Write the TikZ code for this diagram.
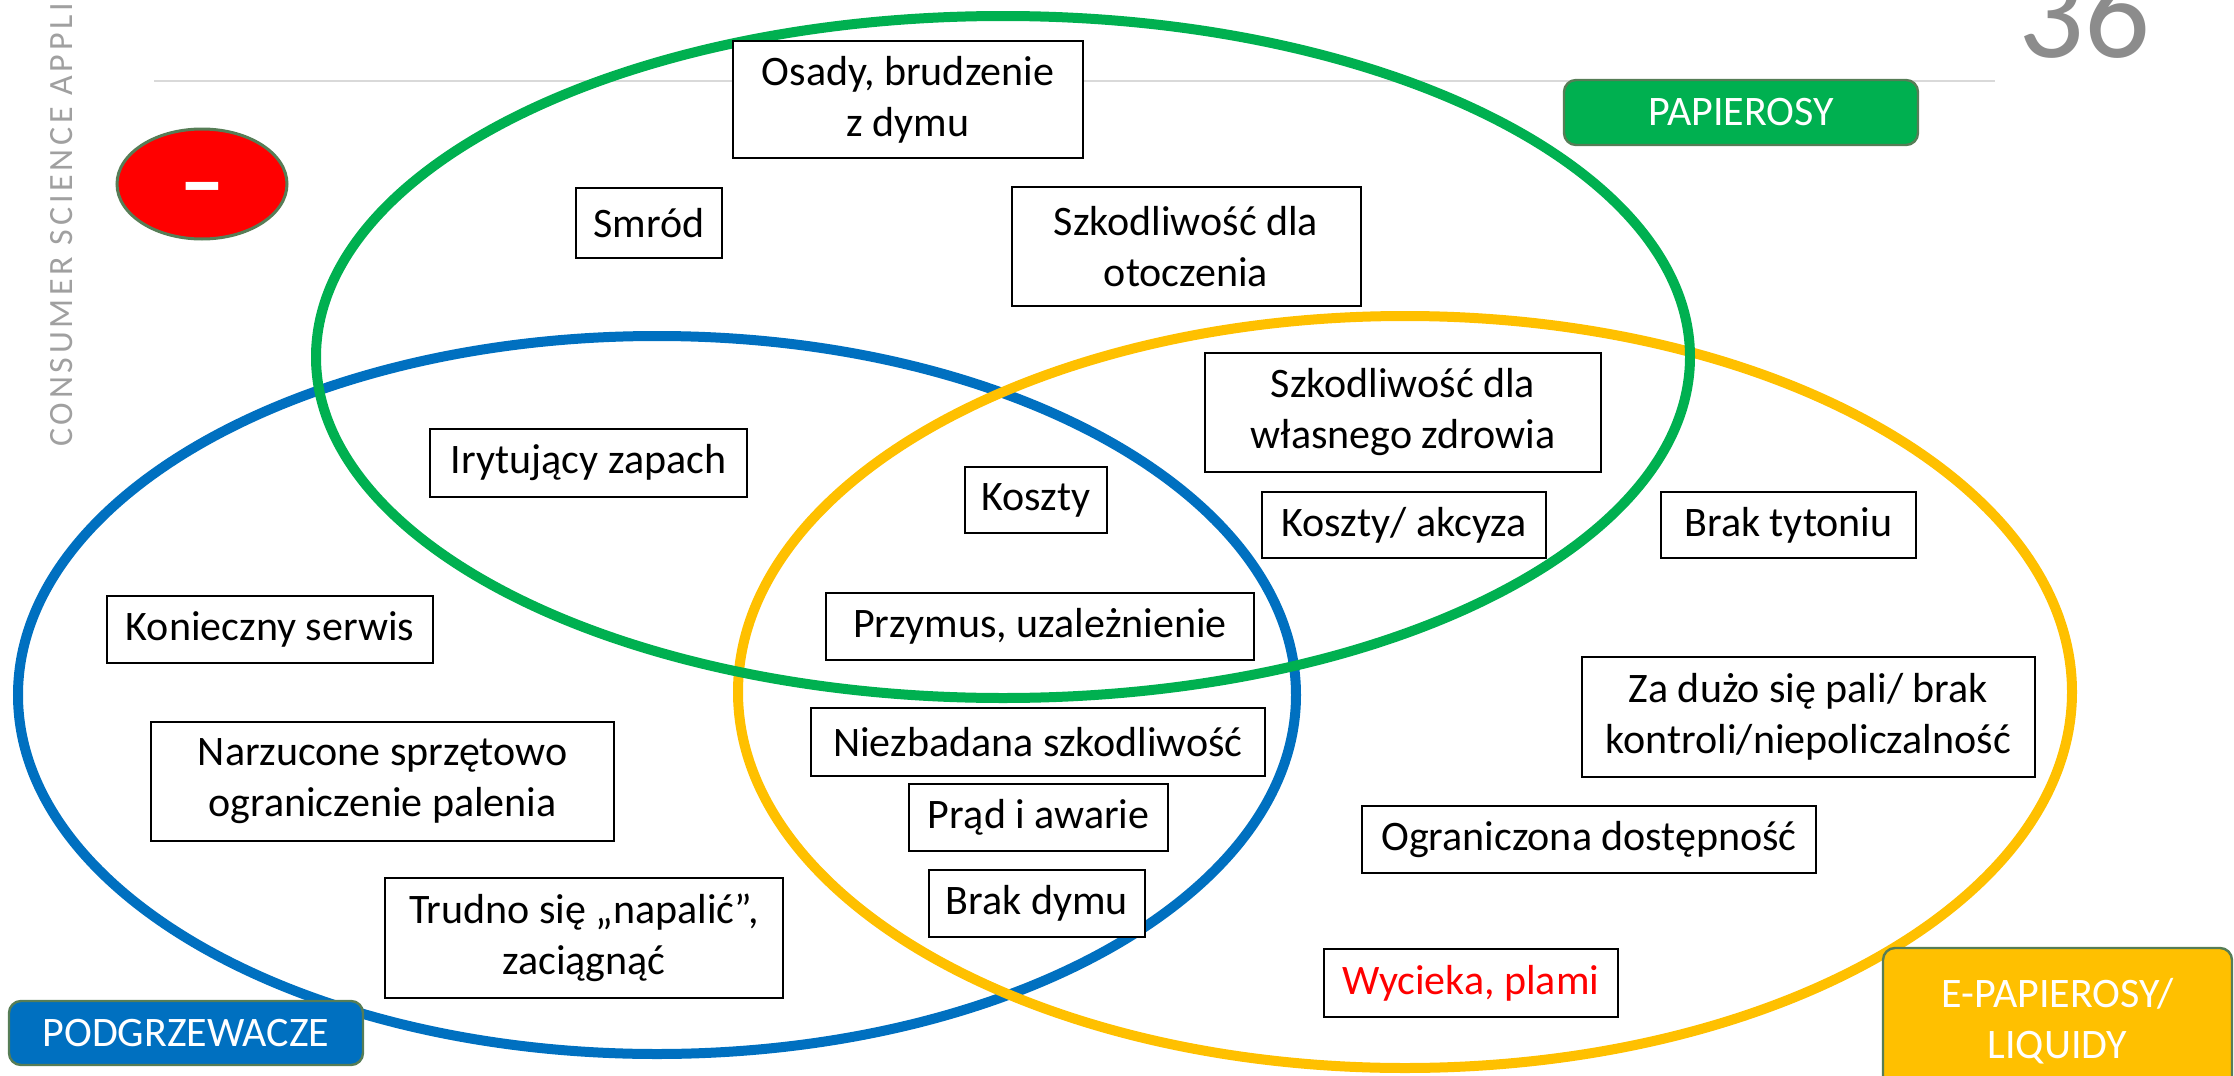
\documentclass[tikz,border=0pt]{standalone}
\usepackage{fontspec}
\setmainfont{Carlito}
\usetikzlibrary{shapes.geometric}
\definecolor{gG}{HTML}{00B050}
\definecolor{bB}{HTML}{0070C0}
\definecolor{yY}{HTML}{FFC000}
\definecolor{bord}{HTML}{567D56}
\definecolor{lineG}{HTML}{D9D9D9}
\definecolor{numG}{HTML}{8C8C8C}
\definecolor{sideG}{HTML}{A0A0A0}
\begin{document}
\begin{tikzpicture}[x=0.5pt,y=-0.5pt,
  box/.style={draw=black, line width=1pt, fill=white, align=center, inner sep=0pt,
    font=\fontsize{21}{25.5}\selectfont},
  tag/.style={draw=bord, line width=1.2pt, rounded corners=6pt, text=white, align=center,
    inner sep=0pt, font=\fontsize{21}{25.5}\selectfont},
  ring/.style={line width=5pt}]
\useasboundingbox (0,0) rectangle (2234,1076);
\clip (0,0) rectangle (2234,1076);
% header line
\coordinate (gl1) at (154,81);
\coordinate (gl2) at (1995,81);
\draw[lineG, line width=1pt] (gl1) -- (gl2);
% page number and side text
\node[anchor=base, text=numG, inner sep=0pt, font=\fontsize{65}{65}\selectfont] (pnum) at (2084,57) {36};
\node[rotate=90, anchor=base west, inner sep=0pt, text=sideG,
  font=\fontsize{17}{17}\selectfont\addfontfeatures{LetterSpace=11}] (side) at (72,447) {CONSUMER SCIENCE APPLI};
% ellipses
\draw[ring, bB] (657,695) ellipse [x radius=319.5pt, y radius=179.5pt];
\draw[ring, yY] (1405,692) ellipse [x radius=333.5pt, y radius=188pt];
\draw[ring, gG] (1003,357) ellipse [x radius=343.5pt, y radius=170.5pt];
% minus sign
\node[ellipse, draw=bord, line width=1.5pt, fill=red, minimum width=85pt, minimum height=55pt, inner sep=0pt] (neg) at (202,184) {};
\node[anchor=base, inner sep=0pt, text=white, font=\fontsize{46}{46}\selectfont\bfseries] (minus) at (202,212) {–};
% boxes
\node[box, minimum width=175pt, minimum height=58.5pt] (osady) at (908,99.5) {Osady, brudzenie\\z dymu};
\node[box, minimum width=73pt, minimum height=35pt] (smrod) at (649,223) {Smród};
\node[box, minimum width=174.5pt, minimum height=59.5pt] (otocz) at (1186,246.5) {Szkodliwość dla\\otoczenia};
\node[box, minimum width=198pt, minimum height=59.5pt] (zdrow) at (1403,412.5) {Szkodliwość dla\\własnego zdrowia};
\node[box, minimum width=158.5pt, minimum height=34pt] (iryt) at (588.5,463) {Irytujący zapach};
\node[box, minimum width=71pt, minimum height=33pt] (koszty) at (1036,500) {Koszty};
\node[box, minimum width=142pt, minimum height=33pt] (akcyza) at (1404,525) {Koszty/ akcyza};
\node[box, minimum width=127.5pt, minimum height=33pt] (tyton) at (1788.5,525) {Brak tytoniu};
\node[box, minimum width=163pt, minimum height=33.5pt] (serwis) at (270,629.5) {Konieczny serwis};
\node[box, minimum width=214pt, minimum height=33.5pt] (przymus) at (1040,626.5) {Przymus, uzależnienie};
\node[box, minimum width=226.5pt, minimum height=60pt] (zaduzo) at (1808.5,717) {Za dużo się pali/ brak\\kontroli/niepoliczalność};
\node[box, minimum width=227pt, minimum height=34pt] (niezb) at (1038,742) {Niezbadana szkodliwość};
\node[box, minimum width=231.5pt, minimum height=59.5pt] (narzuc) at (382.5,781.5) {Narzucone sprzętowo\\ograniczenie palenia};
\node[box, minimum width=129.5pt, minimum height=33.5pt] (prad) at (1038.5,817.5) {Prąd i awarie};
\node[box, minimum width=227pt, minimum height=33.5pt] (ogran) at (1589,839.5) {Ograniczona dostępność};
\node[box, minimum width=108pt, minimum height=33.5pt] (dym) at (1037,903.5) {Brak dymu};
\node[box, minimum width=199pt, minimum height=60pt] (trudno) at (584,938) {Trudno się „napalić”,\\zaciągnąć};
\node[box, minimum width=147pt, minimum height=34pt, text=red] (wyciek) at (1471,983) {Wycieka, plami};
% category tags
\node[tag, fill=gG, minimum width=177pt, minimum height=32.5pt] (papier) at (1741,112.5) {PAPIEROSY};
\node[tag, fill=bB, minimum width=177pt, minimum height=32pt] (podgrz) at (186,1033) {PODGRZEWACZE};
\node[tag, fill=yY, minimum width=174.5pt, minimum height=73.5pt] (epap) at (2057.5,1021.5) {E-PAPIEROSY/\\LIQUIDY};
\end{tikzpicture}
\end{document}
